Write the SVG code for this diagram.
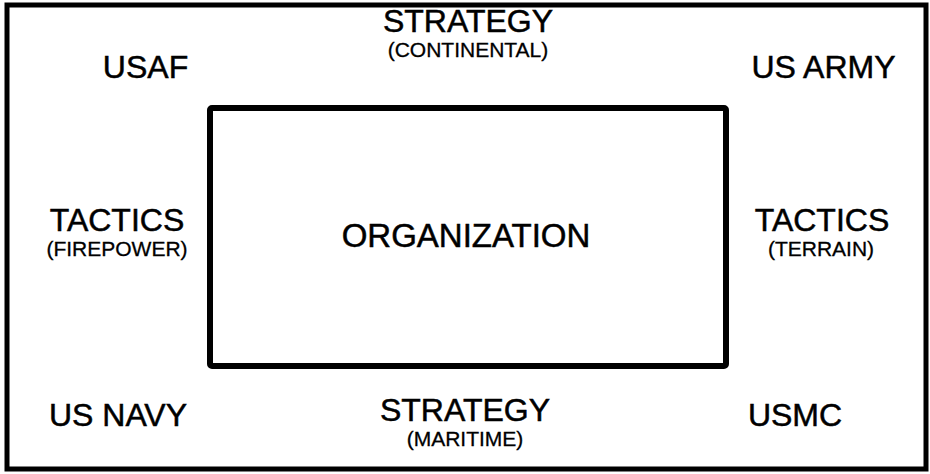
<svg xmlns="http://www.w3.org/2000/svg" width="930" height="474" viewBox="0 0 930 474">
<style>
.frame{fill:none;stroke:#000;stroke-width:5}
.box{fill:none;stroke:#000;stroke-width:6;stroke-linejoin:round}
.t,.s,.o{font-family:"Liberation Sans",Arial,sans-serif;fill:#000;stroke:#000;stroke-width:0.5;text-anchor:middle}
.t{font-size:32px}
.s{font-size:21px;stroke-width:0.3}
.o{font-size:33px}
</style>
<rect class="frame" x="7" y="5" width="919" height="464"/>
<g id="organization">
<rect class="box" x="210" y="108" width="516" height="258" rx="2"/>
<text class="o" x="466" y="247">ORGANIZATION</text>
</g>
<g id="usaf"><text class="t" x="145.5" y="78">USAF</text></g>
<g id="strategy-continental"><text class="t" x="468" y="32">STRATEGY</text><text class="s" x="468" y="57">(CONTINENTAL)</text></g>
<g id="us-army"><text class="t" x="823.5" y="78">US ARMY</text></g>
<g id="tactics-firepower"><text class="t" x="117" y="231">TACTICS</text><text class="s" x="117" y="256">(FIREPOWER)</text></g>
<g id="tactics-terrain"><text class="t" x="822" y="231">TACTICS</text><text class="s" x="821" y="256">(TERRAIN)</text></g>
<g id="us-navy"><text class="t" x="118" y="426">US NAVY</text></g>
<g id="strategy-maritime"><text class="t" x="465" y="421">STRATEGY</text><text class="s" x="465" y="446">(MARITIME)</text></g>
<g id="usmc"><text class="t" x="795" y="426">USMC</text></g>
<g id="connectors"></g>
</svg>
